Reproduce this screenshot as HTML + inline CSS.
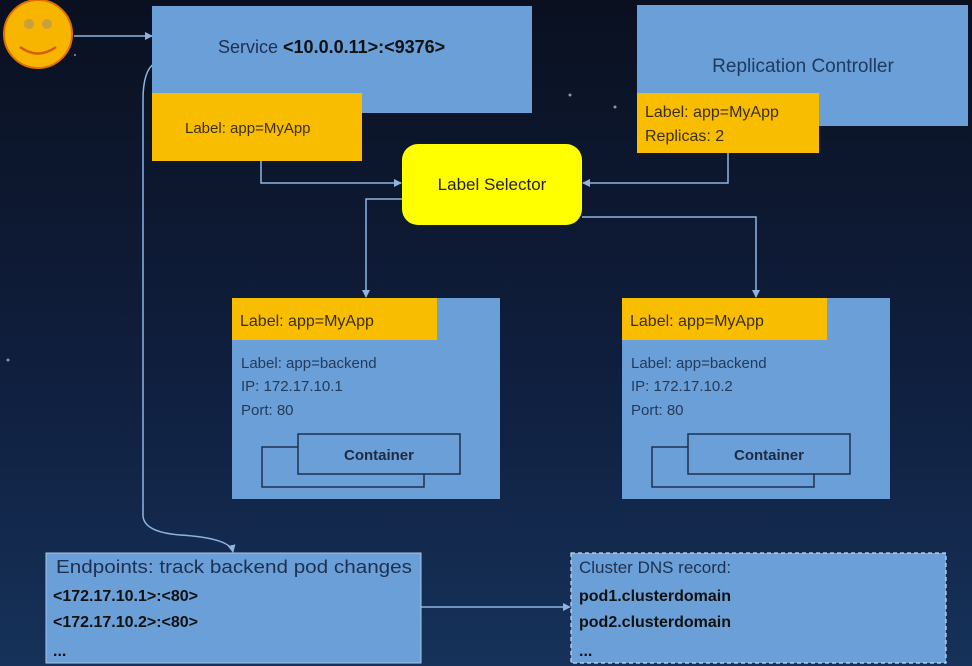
<!DOCTYPE html>
<html><head><meta charset="utf-8"><style>
html,body{margin:0;padding:0;background:#0d1628;}
svg{display:block}
text{font-family:"Liberation Sans",sans-serif;}
</style></head><body>
<svg width="972" height="666" viewBox="0 0 972 666" xmlns="http://www.w3.org/2000/svg">
<defs>
<linearGradient id="bg" x1="0" y1="0" x2="0" y2="1">
<stop offset="0" stop-color="#0a1020"/><stop offset="0.6" stop-color="#102040"/><stop offset="1" stop-color="#16325a"/>
</linearGradient>
<marker id="ar" markerWidth="8" markerHeight="8" refX="7" refY="4" orient="auto" markerUnits="userSpaceOnUse">
<path d="M0,0 L8,4 L0,8 z" fill="#8fb4e0"/></marker>
</defs>
<rect width="972" height="666" fill="url(#bg)"/>
<g fill="#8899aa"><circle cx="570" cy="95" r="1.5"/><circle cx="615" cy="107" r="1.5"/><circle cx="8" cy="360" r="1.5"/><circle cx="75" cy="55" r="1"/></g>

<circle cx="38" cy="34" r="34" fill="#f7b500" stroke="#e07000" stroke-width="2"/>
<circle cx="29" cy="24" r="5" fill="#c9a040"/><circle cx="47" cy="24" r="5" fill="#c9a040"/>
<path d="M20,47 Q38,60 56,47" stroke="#d06000" stroke-width="2.5" fill="none"/>

<g stroke="#8fb4e0" stroke-width="1.5" fill="none">
<line x1="74" y1="36" x2="152" y2="36" marker-end="url(#ar)"/>
<polyline points="261,161 261,183 401,183" marker-end="url(#ar)"/>
<polyline points="728,153 728,183 583,183" marker-end="url(#ar)"/>
<polyline points="402,199 366,199 366,297" marker-end="url(#ar)"/>
<polyline points="582,217 756,217 756,297" marker-end="url(#ar)"/>
<line x1="421" y1="607" x2="570" y2="607" marker-end="url(#ar)"/>
<path d="M155,63 Q143,70 143,100 L143,515 Q143,532 180,535 Q230,538 233,552" marker-end="url(#ar)"/>
</g>

<rect x="152" y="6" width="380" height="107" fill="#6a9fd8"/>
<text x="218" y="53" font-size="18" fill="#1e3050">Service <tspan font-weight="bold" fill="#111">&lt;10.0.0.11&gt;:&lt;9376&gt;</tspan></text>
<rect x="152" y="93" width="210" height="68" fill="#f9bd00"/>
<text x="185" y="133" font-size="15" fill="#3a2e10">Label: app=MyApp</text>

<rect x="637" y="5" width="331" height="121" fill="#6a9fd8"/>
<text x="803" y="72" font-size="19" fill="#1e3a60" text-anchor="middle">Replication Controller</text>
<rect x="637" y="93" width="182" height="60" fill="#f9bd00"/>
<text x="645" y="117" font-size="16" fill="#3a2e10">Label: app=MyApp</text>
<text x="645" y="141" font-size="16" fill="#3a2e10">Replicas: 2</text>

<rect x="402" y="144" width="180" height="81" rx="16" fill="#ffff00"/>
<text x="492" y="190" font-size="17" fill="#222" text-anchor="middle">Label Selector</text>

<g>
<rect x="232" y="298" width="268" height="201" fill="#6a9fd8"/>
<rect x="232" y="298" width="205" height="42" fill="#f9bd00"/>
<text x="240" y="326" font-size="16" fill="#3a2e10">Label: app=MyApp</text>
<text x="241" y="368" font-size="15" fill="#233a5a">Label: app=backend</text>
<text x="241" y="391" font-size="15" fill="#233a5a">IP: 172.17.10.1</text>
<text x="241" y="415" font-size="15" fill="#233a5a">Port: 80</text>
<rect x="262" y="447" width="162" height="40" fill="none" stroke="#1e3050" stroke-width="1.5"/>
<rect x="298" y="434" width="162" height="40" fill="#6a9fd8" stroke="#1e3050" stroke-width="1.5"/>
<text x="379" y="460" font-size="15" font-weight="bold" fill="#1e2a40" text-anchor="middle">Container</text>
</g>
<g transform="translate(390,0)">
<rect x="232" y="298" width="268" height="201" fill="#6a9fd8"/>
<rect x="232" y="298" width="205" height="42" fill="#f9bd00"/>
<text x="240" y="326" font-size="16" fill="#3a2e10">Label: app=MyApp</text>
<text x="241" y="368" font-size="15" fill="#233a5a">Label: app=backend</text>
<text x="241" y="391" font-size="15" fill="#233a5a">IP: 172.17.10.2</text>
<text x="241" y="415" font-size="15" fill="#233a5a">Port: 80</text>
<rect x="262" y="447" width="162" height="40" fill="none" stroke="#1e3050" stroke-width="1.5"/>
<rect x="298" y="434" width="162" height="40" fill="#6a9fd8" stroke="#1e3050" stroke-width="1.5"/>
<text x="379" y="460" font-size="15" font-weight="bold" fill="#1e2a40" text-anchor="middle">Container</text>
</g>

<rect x="46" y="553" width="375" height="110" fill="#6a9fd8" stroke="#a8c6ea" stroke-width="1"/>
<text x="56" y="573" font-size="18" fill="#1e3050" textLength="356" lengthAdjust="spacingAndGlyphs">Endpoints: track backend pod changes</text>
<text x="53" y="601" font-size="16" font-weight="bold" fill="#111">&lt;172.17.10.1&gt;:&lt;80&gt;</text>
<text x="53" y="627" font-size="16" font-weight="bold" fill="#111">&lt;172.17.10.2&gt;:&lt;80&gt;</text>
<text x="53" y="656" font-size="16" font-weight="bold" fill="#111">...</text>

<rect x="571" y="553" width="375" height="110" fill="#6a9fd8" stroke="#c8dcf4" stroke-width="1.2" stroke-dasharray="4,3"/>
<text x="579" y="573" font-size="17" fill="#1e3050">Cluster DNS record:</text>
<text x="579" y="601" font-size="16" font-weight="bold" fill="#111">pod1.clusterdomain</text>
<text x="579" y="627" font-size="16" font-weight="bold" fill="#111">pod2.clusterdomain</text>
<text x="579" y="656" font-size="16" font-weight="bold" fill="#111">...</text>
</svg>
</body></html>
